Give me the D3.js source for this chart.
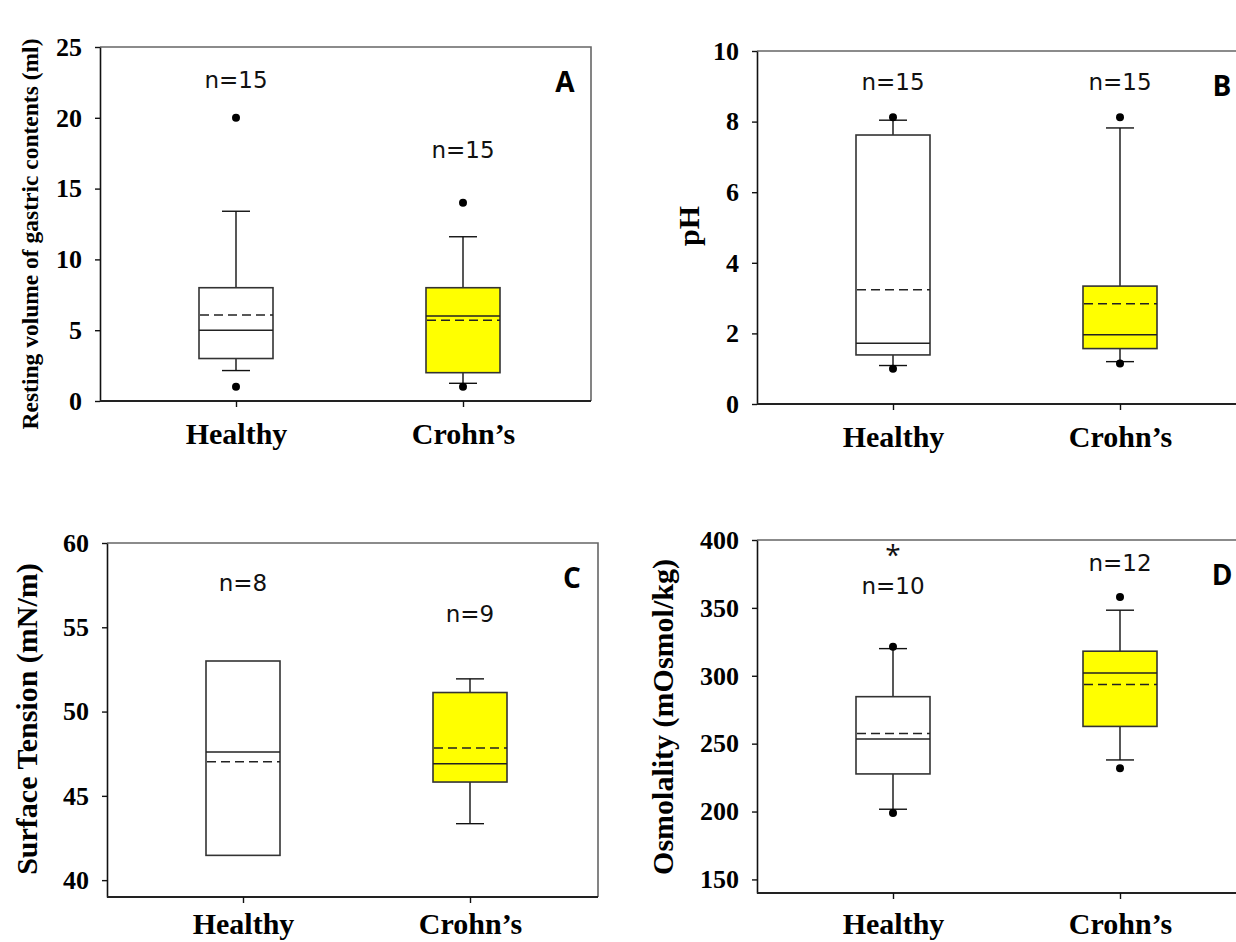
<!DOCTYPE html>
<html>
<head>
<meta charset="utf-8">
<script src="https://cdn.jsdelivr.net/npm/d3@7"></script>
<style>
  body { margin: 0; background: #fff; }
  svg { display: block; }
</style>
</head>
<body>
<div id="chart"></div>
<script>
const groups = ["Healthy", "Crohn\u2019s"];

// A - resting volume of gastric contents (ml)
const volumeBoxes = [
  { lo: 2.15, q1: 3.0, med: 5.0, q3: 8.0, hi: 13.4, mean: 6.07 },
  { lo: 1.25, q1: 2.0, med: 6.0, q3: 8.0, hi: 11.6, mean: 5.7 }
];
const volumeOutliers = [[20, 1], [14, 1]];
const volumeN = ["n=15", "n=15"];
const volumeTicks = [0, 5, 10, 15, 20, 25];

// B - pH
const phBoxes = [
  { lo: 1.09, q1: 1.39, med: 1.72, q3: 7.62, hi: 8.04, mean: 3.24 },
  { lo: 1.2, q1: 1.57, med: 1.96, q3: 3.34, hi: 7.82, mean: 2.84 }
];
const phOutliers = [[8.12, 1.0], [8.12, 1.15]];
const phN = ["n=15", "n=15"];
const phTicks = [0, 2, 4, 6, 8, 10];

// C - surface tension (mN/m); healthy group has no whiskers
const tensionBoxes = [
  { lo: null, q1: 41.47, med: 47.6, q3: 53.0, hi: null, mean: 47.03 },
  { lo: 43.35, q1: 45.82, med: 46.91, q3: 51.13, hi: 51.94, mean: 47.84 }
];
const tensionOutliers = [[], []];
const tensionN = ["n=8", "n=9"];
const tensionTicks = [40, 45, 50, 55, 60];

// D - osmolality (mOsmol/kg)
const osmoBoxes = [
  { lo: 201.7, q1: 227.7, med: 253.4, q3: 284.6, hi: 320, mean: 257.4 },
  { lo: 238, q1: 262.7, med: 302, q3: 318.1, hi: 348.3, mean: 293.6 }
];
const osmoOutliers = [[321.3, 199], [358.1, 231.9]];
const osmoN = ["n=10", "n=12"];
const osmoStars = ["*", ""];
const osmoTicks = [150, 200, 250, 300, 350, 400];

const fills = ["#ffffff", "#ffff00"];

const panels = [
  { letter: "A", boxes: volumeBoxes, outliers: volumeOutliers, n: volumeN, ticks: volumeTicks,
    domain: [0, 25], title: "Resting volume of gastric contents (ml)", titleSize: 23.5,
    left: 100, top: 47, height: 354, titleDx: -70, titleY: 187, nAt: [22.7, 17.7], catPad: 16 },
  { letter: "B", boxes: phBoxes, outliers: phOutliers, n: phN, ticks: phTicks,
    domain: [0, 10], title: "pH", titleSize: 30,
    left: 757, top: 51, height: 353, titleDx: -69, titleY: 175, nAt: [9.13, 9.13], catPad: 16 },
  { letter: "C", boxes: tensionBoxes, outliers: tensionOutliers, n: tensionN, ticks: tensionTicks,
    domain: [39, 60], title: "Surface Tension (mN/m)", titleSize: 30,
    left: 107, top: 543, height: 354, titleDx: -81, titleY: 176, nAt: [57.6, 55.8], catPad: 10 },
  { letter: "D", boxes: osmoBoxes, outliers: osmoOutliers, n: osmoN, ticks: osmoTicks,
    domain: [140, 400], title: "Osmolality (mOsmol/kg)", titleSize: 30,
    left: 757, top: 540, height: 353, titleDx: -95, titleY: 177, nAt: [366, 383], catPad: 14,
    stars: osmoStars, starAt: 390 }
];

const W = 1236, H = 942;
const plotW = 491, boxW = 74, capW = 28;
const serif = "'Liberation Serif', 'Times New Roman', serif";
const sans = "'Open Sans', 'DejaVu Sans', sans-serif";
const nFont = "'DejaVu Sans', sans-serif";

const svg = d3.select("#chart").append("svg")
  .attr("width", W)
  .attr("height", H);

panels.forEach(p => {
  const g = svg.append("g")
    .attr("transform", `translate(${p.left},${p.top})`);

  const y = d3.scaleLinear().domain(p.domain).range([p.height, 0]);
  const x = d3.scalePoint().domain(groups).range([136, 363]);

  // frame (top + right)
  g.append("path")
    .attr("d", `M0,0H${plotW}V${p.height}`)
    .attr("fill", "none")
    .attr("stroke", "#666")
    .attr("stroke-width", 1.6);

  // y axis
  const yAxisG = g.append("g")
    .call(d3.axisLeft(y).tickValues(p.ticks).tickSize(5).tickSizeOuter(0).tickPadding(13));
  yAxisG.select(".domain").attr("stroke", "#111").attr("stroke-width", 1.6);
  yAxisG.selectAll(".tick line").attr("stroke", "#111").attr("stroke-width", 1.4);
  yAxisG.selectAll("text")
    .attr("font-family", serif)
    .attr("font-weight", "bold")
    .attr("font-size", 26)
    .attr("fill", "#000");

  // x axis
  const xAxisG = g.append("g")
    .attr("transform", `translate(0,${p.height})`)
    .call(d3.axisBottom(x).tickSize(6).tickSizeOuter(0).tickPadding(p.catPad));
  xAxisG.select(".domain").attr("stroke", "#222").attr("stroke-width", 1.8)
    .attr("d", `M0,0H${plotW}`);
  xAxisG.selectAll(".tick line").attr("stroke", "#111").attr("stroke-width", 1.4);
  xAxisG.selectAll("text")
    .attr("font-family", serif)
    .attr("font-weight", "bold")
    .attr("font-size", 30)
    .attr("fill", "#000");

  // y title
  g.append("text")
    .attr("transform", `translate(${p.titleDx},${p.titleY}) rotate(-90)`)
    .attr("text-anchor", "middle")
    .attr("dominant-baseline", "central")
    .attr("font-family", serif)
    .attr("font-weight", "bold")
    .attr("font-size", p.titleSize)
    .attr("fill", "#000")
    .text(p.title);

  // boxes
  const box = g.selectAll(".box")
    .data(p.boxes)
    .enter().append("g")
    .attr("class", "box");

  box.each(function (d, i) {
    const b = d3.select(this);
    const cx = x(groups[i]);
    if (d.hi !== null) {
      b.append("line")
        .attr("x1", cx).attr("x2", cx)
        .attr("y1", y(d.q3)).attr("y2", y(d.hi))
        .attr("stroke", "#111").attr("stroke-width", 1.4);
      b.append("line")
        .attr("x1", cx - capW / 2).attr("x2", cx + capW / 2)
        .attr("y1", y(d.hi)).attr("y2", y(d.hi))
        .attr("stroke", "#111").attr("stroke-width", 1.4);
    }
    if (d.lo !== null) {
      b.append("line")
        .attr("x1", cx).attr("x2", cx)
        .attr("y1", y(d.q1)).attr("y2", y(d.lo))
        .attr("stroke", "#111").attr("stroke-width", 1.4);
      b.append("line")
        .attr("x1", cx - capW / 2).attr("x2", cx + capW / 2)
        .attr("y1", y(d.lo)).attr("y2", y(d.lo))
        .attr("stroke", "#111").attr("stroke-width", 1.4);
    }
    b.append("rect")
      .attr("x", cx - boxW / 2)
      .attr("y", y(d.q3))
      .attr("width", boxW)
      .attr("height", y(d.q1) - y(d.q3))
      .attr("fill", fills[i])
      .attr("stroke", "#333")
      .attr("stroke-width", 1.6);
    b.append("line")
      .attr("x1", cx - boxW / 2).attr("x2", cx + boxW / 2)
      .attr("y1", y(d.med)).attr("y2", y(d.med))
      .attr("stroke", "#222").attr("stroke-width", 1.5);
    b.append("line")
      .attr("x1", cx - boxW / 2 + 1).attr("x2", cx + boxW / 2)
      .attr("y1", y(d.mean)).attr("y2", y(d.mean))
      .attr("stroke", "#222").attr("stroke-width", 1.5)
      .attr("stroke-dasharray", "9,5");

    // outliers
    b.selectAll("circle")
      .data(p.outliers[i])
      .enter().append("circle")
      .attr("cx", cx)
      .attr("cy", v => y(v))
      .attr("r", 4)
      .attr("fill", "#000");
  });

  // n labels
  g.selectAll(".nlab")
    .data(p.n)
    .enter().append("text")
    .attr("class", "nlab")
    .attr("x", (d, i) => x(groups[i]))
    .attr("y", (d, i) => y(p.nAt[i]))
    .attr("text-anchor", "middle")
    .attr("dominant-baseline", "central")
    .attr("font-family", nFont)
    .attr("font-size", 23)
    .attr("fill", "#111")
    .text(d => d);

  if (p.stars) {
    g.selectAll(".star")
      .data(p.stars)
      .enter().append("text")
      .attr("class", "star")
      .attr("x", (d, i) => x(groups[i]))
      .attr("y", y(p.starAt) + 11)
      .attr("text-anchor", "middle")
      .attr("font-family", sans)
      .attr("font-size", 28)
      .attr("fill", "#111")
      .text(d => d);
  }

  // panel letter
  g.append("text")
    .attr("x", 465)
    .attr("y", 34)
    .attr("text-anchor", "middle")
    .attr("dominant-baseline", "central")
    .attr("font-family", sans)
    .attr("font-weight", "bold")
    .attr("font-size", 28)
    .attr("fill", "#000")
    .text(p.letter);
});
</script>
</body>
</html>
